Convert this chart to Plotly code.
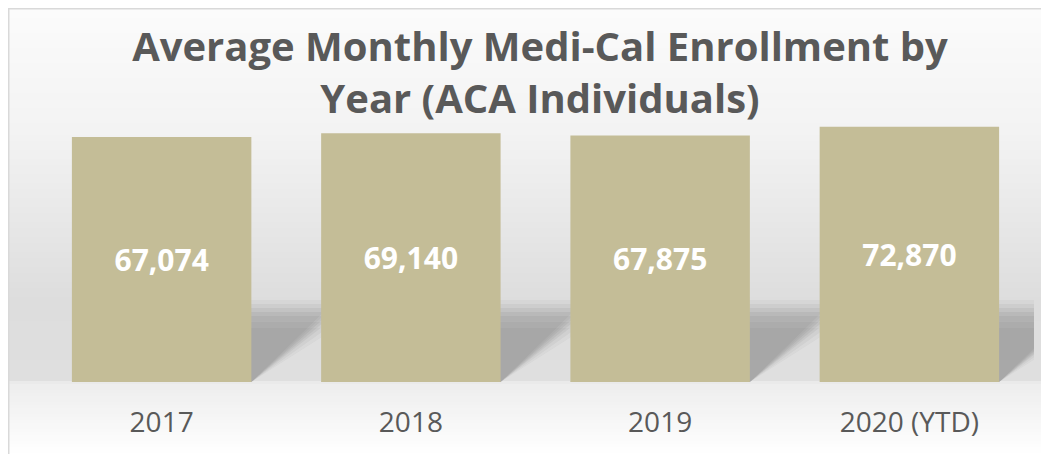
import plotly.graph_objects as go

# ---- data ----
categories = ["2017", "2018", "2019", "2020 (YTD)"]
enrollment = [67074, 69140, 67875, 72870]
value_labels = [f"{v:,}" for v in enrollment]

# value-axis configuration (chart uses a non-zero floor, like the original 3-D style chart)
AXIS_FLOOR = -70000
AXIS_TOP = 87800

# ---- layout geometry ----
# the page body has an 8px margin, so the figure sits 8px in from the window edge
PAGE_OFF = 8
W, H = 1049 - PAGE_OFF, 454 - PAGE_OFF
ML, MR, MT, MB = 29, 15, 92, 72
PW, PH = W - ML - MR, H - MT - MB
PLOT_BOTTOM = H - MB


def py2paper(py):
    return (PLOT_BOTTOM - py) / PH


def px2paper(px):
    return (px - ML) / PW


BAR_COLOR = "#C4BD97"
TEXT_GREY = "#595959"
FONT = "Open Sans"

shapes = []

# background vertical gradient (drawn as thin strips) — y in figure pixels
stops = [(1, 251), (122, 243), (202, 233), (292, 221), (373, 223), (375, 237), (446, 255)]


def grey_at(y):
    for (y0, g0), (y1, g1) in zip(stops[:-1], stops[1:]):
        if y0 <= y <= y1:
            t = (y - y0) / (y1 - y0) if y1 > y0 else 0
            return g0 + (g1 - g0) * t
    return stops[-1][1]


step = 3
y = 1
while y < H:
    g = int(round(grey_at(y + step / 2)))
    shapes.append(dict(
        type="rect", xref="paper", yref="paper", layer="below",
        x0=px2paper(0), x1=px2paper(W + 2),
        y0=py2paper(y + step + 0.5), y1=py2paper(y),
        fillcolor=f"rgb({g},{g},{g})", line=dict(width=0),
    ))
    y += step

# chart frame (top and left edges visible)
shapes.append(dict(type="line", xref="paper", yref="paper", layer="above",
                   x0=px2paper(0), x1=px2paper(W + 5), y0=py2paper(0.5), y1=py2paper(0.5),
                   line=dict(color="#D9D9D9", width=2)))
shapes.append(dict(type="line", xref="paper", yref="paper", layer="above",
                   x0=px2paper(0.5), x1=px2paper(0.5), y0=py2paper(0), y1=py2paper(H + 5),
                   line=dict(color="#D9D9D9", width=2)))

# perspective shadows behind the bars (layered for a soft edge)
BAR_W = 0.72
OFF = 0.34
layers = [(82, 0.035), (78, 0.045), (74, 0.055), (70, 0.06), (66, 0.05),
          (60, 0.04), (54, 0.03)]
for i in range(len(categories)):
    x0, x1 = i - BAR_W / 2, i + BAR_W / 2
    for hpx, alpha in layers:
        h = hpx / PH
        xr = x1 + OFF
        if xr > 3.5:
            yc = h * (3.5 - x1) / OFF
            path = (f"M {x0},0 L {x1},0 L 3.5,{yc} L 3.5,{h} "
                    f"L {x0 + OFF},{h} Z")
        else:
            path = f"M {x0},0 L {x1},0 L {xr},{h} L {x0 + OFF},{h} Z"
        shapes.append(dict(type="path", xref="x", yref="paper", layer="below",
                           path=path, fillcolor=f"rgba(30,30,30,{alpha})",
                           line=dict(width=0)))

fig = go.Figure()
fig.add_trace(go.Bar(
    x=categories,
    y=[v - AXIS_FLOOR for v in enrollment],
    base=AXIS_FLOOR,
    customdata=enrollment,
    hovertemplate="%{x}: %{customdata:,}<extra></extra>",
    text=value_labels,
    textposition="inside",
    insidetextanchor="middle",
    textangle=0,
    constraintext="none",
    textfont=dict(family=FONT, size=30, color="white", weight="bold"),
    marker=dict(color=BAR_COLOR, line=dict(width=0)),
))

fig.update_layout(
    width=W, height=H,
    margin=dict(l=ML, r=MR, t=MT, b=MB, autoexpand=False),
    paper_bgcolor="white",
    plot_bgcolor="rgba(0,0,0,0)",
    bargap=1 - BAR_W,
    showlegend=False,
    shapes=shapes,
    title=dict(
        text="Average Monthly Medi-Cal Enrollment by<br>Year (ACA Individuals)",
        font=dict(family=FONT, size=40, color=TEXT_GREY, weight="bold"),
        xref="container", yref="container",
        x=532 / W, xanchor="center",
        y=1 - 53 / H, yanchor="top",
        automargin=False,
    ),
    xaxis=dict(
        type="category", range=[-0.5, 3.5], automargin=False,
        showgrid=False, showline=False, zeroline=False,
        ticks="outside", ticklen=15, tickcolor="rgba(0,0,0,0)",
        tickfont=dict(family=FONT, size=28, color=TEXT_GREY),
    ),
    yaxis=dict(range=[AXIS_FLOOR, AXIS_TOP], visible=False, fixedrange=True,
               automargin=False),
)

fig.write_html("out.html")
